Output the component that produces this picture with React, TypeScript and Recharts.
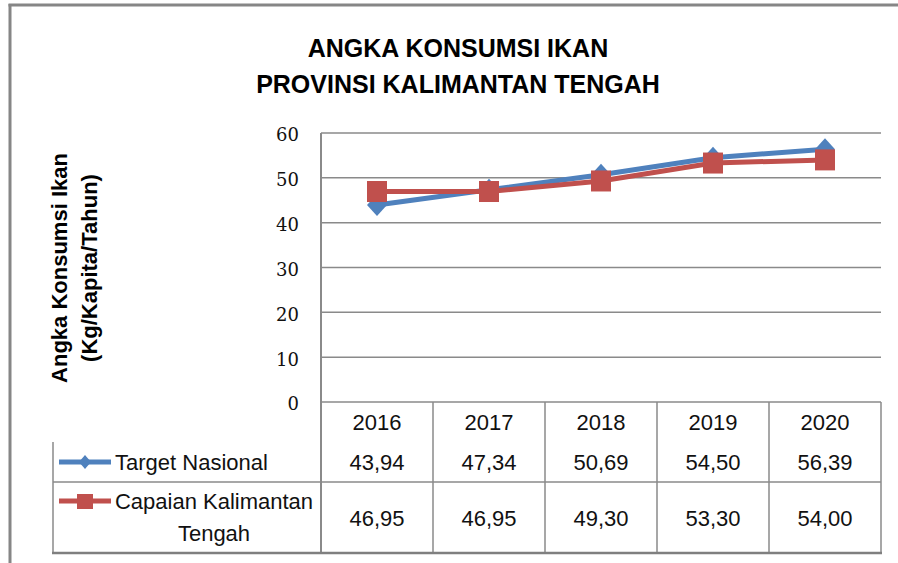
import { CartesianGrid, Line, LineChart, XAxis, YAxis } from "recharts";

const years = ["2016", "2017", "2018", "2019", "2020"];
const targetNasional = [43.94, 47.34, 50.69, 54.5, 56.39];
const capaianKalteng = [46.95, 46.95, 49.3, 53.3, 54.0];
const yTicks = [0, 10, 20, 30, 40, 50, 60];

const titleLines = ["ANGKA KONSUMSI IKAN", "PROVINSI KALIMANTAN TENGAH"];
const yLabelLines = ["Angka Konsumsi Ikan", "(Kg/Kapita/Tahun)"];
const seriesNames = ["Target Nasional", "Capaian Kalimantan Tengah"];

const data = years.map((year, i) => ({
  year,
  target: targetNasional[i],
  capaian: capaianKalteng[i],
}));

const BLUE = "#4F81BD";
const RED = "#C0504D";
const GRID = "#8a8a8a";
const FONT = "'Liberation Sans', Arial, sans-serif";

// plot area in page pixels
const PLOT_LEFT = 321;
const PLOT_RIGHT = 881;
const PLOT_TOP = 133;
const PLOT_BOTTOM = 402;
const COL_W = (PLOT_RIGHT - PLOT_LEFT) / years.length;

const W = 898;
const H = 563;

function formatValue(v: number): string {
  return v.toFixed(2).replace(".", ",");
}

function Diamond(props: any) {
  const { cx, cy, index } = props;
  if (cx == null || cy == null) return null;
  return (
    <path
      key={`dia-${index}`}
      d={`M${cx},${cy - 11} L${cx + 10},${cy} L${cx},${cy + 11} L${cx - 10},${cy} Z`}
      fill={BLUE}
    />
  );
}

function Square(props: any) {
  const { cx, cy, index } = props;
  if (cx == null || cy == null) return null;
  return (
    <rect
      key={`sq-${index}`}
      x={cx - 10}
      y={cy - 10.5}
      width={20}
      height={21}
      fill={RED}
    />
  );
}

function DataTable() {
  const rowTop = 442;
  const rowMid = 482;
  const rowBottom = 553;
  const legendLeft = 53;

  return (
    <g>
      {years.map((_, i) => (
        <line
          key={`v-${i}`}
          x1={PLOT_LEFT + (i + 1) * COL_W}
          x2={PLOT_LEFT + (i + 1) * COL_W}
          y1={PLOT_BOTTOM}
          y2={rowBottom}
          stroke={GRID}
          strokeWidth={1.5}
        />
      ))}
      <line x1={PLOT_LEFT} x2={PLOT_LEFT} y1={PLOT_BOTTOM} y2={rowBottom} stroke={GRID} strokeWidth={2} />
      <line x1={legendLeft} x2={legendLeft} y1={rowTop} y2={rowBottom} stroke={GRID} strokeWidth={1.5} />
      <line x1={legendLeft} x2={PLOT_RIGHT} y1={rowMid} y2={rowMid} stroke={GRID} strokeWidth={1.5} />
      <line x1={legendLeft - 1} x2={PLOT_RIGHT + 1} y1={rowBottom} y2={rowBottom} stroke="#7f7f7f" strokeWidth={2.5} />

      {/* legend keys */}
      <line x1={59} x2={111} y1={462} y2={462} stroke={BLUE} strokeWidth={5} />
      <path d="M85,455 L91,462 L85,469 L79,462 Z" fill={BLUE} />
      <line x1={59} x2={111} y1={501} y2={501} stroke={RED} strokeWidth={5} />
      <rect x={77} y={494} width={16} height={15} fill={RED} />

      <g fontFamily={FONT} fontSize={22} fill="#111">
        <text x={115} y={470}>{seriesNames[0]}</text>
        <text x={214} y={509} textAnchor="middle">Capaian Kalimantan</text>
        <text x={214} y={541} textAnchor="middle">Tengah</text>
        {targetNasional.map((v, i) => (
          <text key={`t-${i}`} x={PLOT_LEFT + (i + 0.5) * COL_W} y={470} textAnchor="middle">
            {formatValue(v)}
          </text>
        ))}
        {capaianKalteng.map((v, i) => (
          <text key={`c-${i}`} x={PLOT_LEFT + (i + 0.5) * COL_W} y={526} textAnchor="middle">
            {formatValue(v)}
          </text>
        ))}
      </g>
    </g>
  );
}

export default function App() {
  return (
    <div
      style={{
        position: "absolute",
        left: 0,
        top: 0,
        width: W,
        height: H,
        background: "#fff",
        overflow: "hidden",
      }}
    >
      <div style={{ position: "absolute", left: 0, top: 0 }}>
        <LineChart
          width={W}
          height={H}
          data={data}
          margin={{
            top: PLOT_TOP,
            right: W - PLOT_RIGHT,
            bottom: H - PLOT_BOTTOM - 40,
            left: PLOT_LEFT - 60,
          }}
        >
          <CartesianGrid vertical={false} stroke={GRID} strokeWidth={1.5} />
          <XAxis
            dataKey="year"
            height={40}
            padding={{ left: COL_W / 2, right: COL_W / 2 }}
            axisLine={false}
            tickLine={false}
            tickSize={0}
            tickMargin={12}
            tick={{ fontFamily: FONT, fontSize: 22, fill: "#111" }}
          />
          <YAxis
            width={60}
            domain={[0, 60]}
            ticks={yTicks}
            axisLine={{ stroke: GRID, strokeWidth: 2 }}
            tickLine={false}
            tickSize={0}
            tickMargin={22}
            tick={{ fontFamily: "'DejaVu Serif', serif", fontSize: 18, fill: "#111", dy: 2 }}
          />
          <Line
            type="linear"
            dataKey="target"
            name={seriesNames[0]}
            stroke={BLUE}
            strokeWidth={5}
            dot={(p: any) => <Diamond {...p} key={`dia-${p.index}`} />}
            activeDot={false}
            isAnimationActive={false}
          />
          <Line
            type="linear"
            dataKey="capaian"
            name={seriesNames[1]}
            stroke={RED}
            strokeWidth={5}
            dot={(p: any) => <Square {...p} key={`sq-${p.index}`} />}
            activeDot={false}
            isAnimationActive={false}
          />
        </LineChart>
      </div>

      <svg
        width={W}
        height={H}
        style={{ position: "absolute", left: 0, top: 0, pointerEvents: "none" }}
      >
        {/* outer frame */}
        <line x1={8.5} x2={W} y1={5} y2={5} stroke="#868686" strokeWidth={3} />
        <line x1={10} x2={10} y1={4} y2={H} stroke="#868686" strokeWidth={3} />

        <g fontFamily={FONT} fontWeight="bold" fill="#000" textAnchor="middle">
          <text x={458} y={57} fontSize={25}>{titleLines[0]}</text>
          <text x={458} y={93} fontSize={25}>{titleLines[1]}</text>
          <text transform="translate(67,268) rotate(-90)" fontSize={22}>{yLabelLines[0]}</text>
          <text transform="translate(97,268) rotate(-90)" fontSize={22}>{yLabelLines[1]}</text>
        </g>

        <DataTable />
      </svg>
    </div>
  );
}
